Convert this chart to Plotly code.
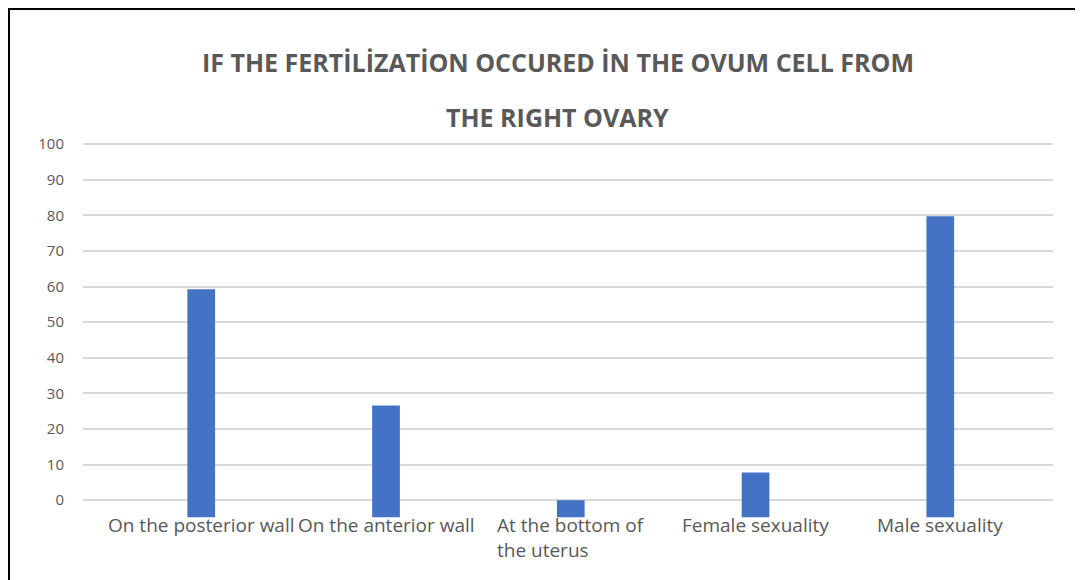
import plotly.graph_objects as go

categories = ["On the posterior wall", "On the anterior wall", "At the bottom of<br>the uterus",
              "Female sexuality", "Male sexuality"]
values = [59.2, 26.6, 0.0, 7.8, 79.7]
bar_base = [-4.8, -4.8, -4.8, -4.8, -4.8]
y_ticks = [0, 10, 20, 30, 40, 50, 60, 70, 80, 90, 100]
title_line1 = "IF THE FERTİLİZATİON OCCURED İN THE OVUM CELL FROM"
title_line2 = "THE RIGHT OVARY"

OFF = 8  # page body offset
W, H = 1083 - OFF, 580 - OFF
ML, MR, MT, MB = 83 - OFF, 30, 143 - OFF, 62
PW, PH = W - ML - MR, H - MT - MB

def px_x(p):
    return (p - OFF - ML) / PW

def px_y(p):
    return 1 - (p - OFF - MT) / PH

GRAY = "#595959"
FONT = "Open Sans, Liberation Sans, sans-serif"

xpos = list(range(len(categories)))
fig = go.Figure()
fig.add_trace(go.Bar(
    x=xpos,
    y=[v - b for v, b in zip(values, bar_base)],
    base=bar_base,
    width=0.15,
    marker=dict(color="#4472C4", line=dict(width=0)),
    hoverinfo="skip",
))

for i, c in enumerate(categories):
    fig.add_annotation(x=i, xref="x", y=0, yref="paper", yanchor="top", yshift=8,
                       text=c, showarrow=False, align="left",
                       font=dict(family=FONT, size=19, color=GRAY))

fig.add_annotation(x=px_x(558), xref="paper", y=px_y(62), yref="paper",
                   xanchor="center", yanchor="middle", text="<b>%s</b>" % title_line1,
                   showarrow=False, font=dict(family=FONT, size=25, color=GRAY))
fig.add_annotation(x=px_x(557), xref="paper", y=px_y(117), yref="paper",
                   xanchor="center", yanchor="middle", text="<b>%s</b>" % title_line2,
                   showarrow=False, font=dict(family=FONT, size=25, color=GRAY))

# image frame (top and left edges)
fig.add_shape(type="line", xref="paper", yref="paper", x0=px_x(8), x1=px_x(1083),
              y0=px_y(9), y1=px_y(9), line=dict(color="black", width=2))
fig.add_shape(type="line", xref="paper", yref="paper", x0=px_x(9), x1=px_x(9),
              y0=px_y(8), y1=px_y(580), line=dict(color="black", width=2))

fig.update_layout(
    width=W, height=H,
    margin=dict(l=ML, r=MR, t=MT, b=MB, pad=0),
    paper_bgcolor="white", plot_bgcolor="white",
    showlegend=False,
    xaxis=dict(range=[-0.64, 4.61], showticklabels=False, showgrid=False,
               zeroline=False, showline=False, ticks=""),
    yaxis=dict(range=[-5, 100.3], tickvals=y_ticks, showgrid=True,
               gridcolor="#D9D9D9", gridwidth=1.5, zeroline=False, showline=False,
               ticks="", ticklabelstandoff=18,
               tickfont=dict(family=FONT, size=15, color=GRAY)),
)

fig.write_html("out.html")
